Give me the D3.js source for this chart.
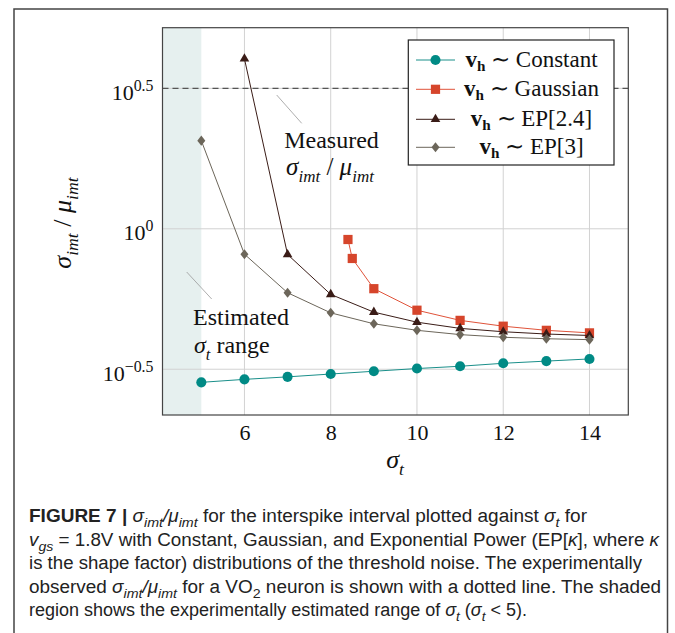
<!DOCTYPE html>
<html>
<head>
<meta charset="utf-8">
<script src="https://cdn.jsdelivr.net/npm/d3@7"></script>
<style>
  body { margin: 0; background: #fff; }
  svg { display: block; }
  .serif { font-family: 'Liberation Serif', 'Times New Roman', serif; fill: #111; }
  .sans { font-family: 'Liberation Sans', Arial, sans-serif; fill: #222; }
</style>
</head>
<body>
<svg id="chart" width="675" height="633"></svg>
<script>
// values
const xTicks = [6, 8, 10, 12, 14];
const yTickExps = [-0.5, 0, 0.5];

const constantX = [5, 6, 7, 8, 9, 10, 11, 12, 13, 14];
const constantY = [0.284, 0.291, 0.297, 0.304, 0.311, 0.318, 0.324, 0.332, 0.338, 0.344];

const gaussianX = [8.4, 8.5, 9, 10, 11, 12, 13, 14];
const gaussianY = [0.916, 0.784, 0.612, 0.513, 0.472, 0.45, 0.435, 0.426];

const ep24X = [6, 7, 8, 9, 10, 11, 12, 13, 14];
const ep24Y = [4.03, 0.81, 0.584, 0.505, 0.465, 0.442, 0.43, 0.422, 0.417];

const ep3X = [5, 6, 7, 8, 9, 10, 11, 12, 13, 14];
const ep3Y = [2.06, 0.812, 0.592, 0.502, 0.459, 0.435, 0.42, 0.411, 0.406, 0.403];

const measuredRatio = 3.162; // dashed line, 10^0.5
const estimatedMax = 5;      // shaded region sigma_t < 5
const legendLabels = ['Constant', 'Gaussian', 'EP[2.4]', 'EP[3]'];

const svg = d3.select('#chart');

// plot box
const pLeft = 162.5, pRight = 628.3, pTop = 27.7, pBottom = 415;

const x = d3.scaleLinear().domain([4.1, 14.9]).range([pLeft, pRight]);
const y = d3.scaleLog().domain([Math.pow(10, -0.663), Math.pow(10, 0.716)]).range([pBottom, pTop]);

// diamond a bit wider than d3's
const diamond = {
  draw(ctx, size) {
    const h = Math.sqrt(size) * 0.58, w = h * 0.8;
    ctx.moveTo(0, -h); ctx.lineTo(w, 0); ctx.lineTo(0, h); ctx.lineTo(-w, 0); ctx.closePath();
  }
};

const series = [
  { xs: constantX, ys: constantY, color: '#008a85', line: '#1a8f8a', sym: d3.symbolCircle, size: 80 },
  { xs: gaussianX, ys: gaussianY, color: '#d6452b', line: '#e0533a', sym: d3.symbolSquare, size: 85 },
  { xs: ep24X, ys: ep24Y, color: '#3a1c17', line: '#3a1c17', sym: d3.symbolTriangle, size: 40 },
  { xs: ep3X, ys: ep3Y, color: '#6c665a', line: '#6c665a', sym: diamond, size: 75 }
];

// helper for text with sub/superscripts
function rich(text, parts, base, small, drop) {
  const k = small || 0.68;
  const dropK = drop || 0.28;
  let shift = 0;
  parts.forEach(function(p) {
    const target = p.sub ? base * dropK : p.sup ? -base * 0.4 : 0;
    text.append('tspan')
      .attr('dy', target - shift)
      .style('font-size', (p.sub || p.sup ? base * k : base) + 'px')
      .style('font-style', p.i ? 'italic' : null)
      .style('font-weight', p.b ? 'bold' : null)
      .text(p.t);
    shift = target;
  });
  return text;
}

// outer figure frame
svg.append('rect')
  .attr('x', 14).attr('y', 9)
  .attr('width', 653.5).attr('height', 660)
  .attr('fill', 'none').attr('stroke', '#444').attr('stroke-width', 1.5);

// shaded estimated range
svg.append('rect')
  .attr('x', pLeft).attr('y', pTop)
  .attr('width', x(estimatedMax) - pLeft).attr('height', pBottom - pTop)
  .attr('fill', '#e6f0ef');

// grid
svg.append('g')
  .selectAll('line')
  .data(xTicks)
  .enter()
  .append('line')
  .attr('x1', d => x(d)).attr('x2', d => x(d))
  .attr('y1', pTop).attr('y2', pBottom)
  .attr('stroke', '#d2d2d2');

svg.append('g')
  .selectAll('line')
  .data(yTickExps)
  .enter()
  .append('line')
  .attr('x1', pLeft).attr('x2', pRight)
  .attr('y1', d => y(Math.pow(10, d))).attr('y2', d => y(Math.pow(10, d)))
  .attr('stroke', '#d2d2d2');

// measured ratio
svg.append('line')
  .attr('x1', pLeft).attr('x2', pRight)
  .attr('y1', y(measuredRatio)).attr('y2', y(measuredRatio))
  .attr('stroke', '#555').attr('stroke-width', 1.2)
  .attr('stroke-dasharray', '6,4');

// axes labels
const xAxis = d3.axisBottom(x).tickValues(xTicks).tickSize(0).tickPadding(0);
svg.append('g')
  .attr('transform', `translate(0,${pBottom})`)
  .call(xAxis)
  .call(g => g.select('.domain').remove())
  .selectAll('text')
  .attr('class', 'serif')
  .attr('dy', 0)
  .attr('y', 25)
  .style('font-size', '22px');

const yAxis = d3.axisLeft(y).tickValues(yTickExps.map(e => Math.pow(10, e))).tickSize(0).tickFormat('');
svg.append('g')
  .attr('transform', `translate(${pLeft},0)`)
  .call(yAxis)
  .call(g => g.select('.domain').remove())
  .selectAll('.tick')
  .each(function(d) {
    const e = Math.round(Math.log10(d) * 10) / 10;
    const t = d3.select(this).select('text')
      .attr('class', 'serif')
      .attr('x', -9).attr('dy', 0).attr('y', 11)
      .attr('text-anchor', 'end')
      .text(null);
    rich(t, [{ t: '10' }, { t: e === 0 ? '0' : String(e).replace('-', '\u2212'), sup: 1 }], 22, 0.72);
  });

// series
const line = d3.line();
series.forEach(function(s) {
  const pts = s.xs.map((v, i) => [x(v), y(s.ys[i])]);
  svg.append('path')
    .attr('d', line(pts))
    .attr('fill', 'none')
    .attr('stroke', s.line)
    .attr('stroke-width', 1);
  svg.append('g')
    .selectAll('path')
    .data(pts)
    .enter()
    .append('path')
    .attr('transform', d => `translate(${d[0]},${d[1]})`)
    .attr('d', d3.symbol().type(s.sym).size(s.size))
    .attr('fill', s.color);
});

// plot frame
svg.append('rect')
  .attr('x', pLeft).attr('y', pTop)
  .attr('width', pRight - pLeft).attr('height', pBottom - pTop)
  .attr('fill', 'none').attr('stroke', '#444').attr('stroke-width', 1.2);

// annotations
svg.append('line')
  .attr('x1', 276.7).attr('y1', 95).attr('x2', 301.7).attr('y2', 123.3)
  .attr('stroke', '#999').attr('stroke-width', 0.8);
svg.append('text').attr('class', 'serif')
  .attr('x', 331.5).attr('y', 148.3).attr('text-anchor', 'middle')
  .style('font-size', '24px').text('Measured');
rich(svg.append('text').attr('class', 'serif')
  .attr('x', 330).attr('y', 175).attr('text-anchor', 'middle'),
  [{ t: 'σ', i: 1 }, { t: 'imt', sub: 1, i: 1 }, { t: ' / ' }, { t: 'μ', i: 1 }, { t: 'imt', sub: 1, i: 1 }], 25);

svg.append('line')
  .attr('x1', 186.7).attr('y1', 272).attr('x2', 211.7).attr('y2', 299)
  .attr('stroke', '#999').attr('stroke-width', 0.8);
svg.append('text').attr('class', 'serif')
  .attr('x', 193).attr('y', 325)
  .style('font-size', '24px').text('Estimated');
rich(svg.append('text').attr('class', 'serif')
  .attr('x', 194).attr('y', 353),
  [{ t: 'σ', i: 1 }, { t: 't', sub: 1, i: 1 }, { t: ' range' }], 24);

// axis titles
rich(svg.append('text').attr('class', 'serif')
  .attr('x', 395).attr('y', 468).attr('text-anchor', 'middle'),
  [{ t: 'σ', i: 1 }, { t: 't', sub: 1, i: 1 }], 26);

rich(svg.append('text').attr('class', 'serif')
  .attr('transform', 'translate(71,223) rotate(-90)').attr('text-anchor', 'middle'),
  [{ t: 'σ', i: 1 }, { t: 'imt', sub: 1, i: 1 }, { t: ' / ' }, { t: 'μ', i: 1 }, { t: 'imt', sub: 1, i: 1 }], 26);

// legend
const legend = svg.append('g');
legend.append('rect')
  .attr('x', 408.3).attr('y', 40).attr('width', 205.7).attr('height', 125)
  .attr('fill', '#fff').attr('stroke', '#222').attr('stroke-width', 1.2);
const rowY = [60, 89.3, 119.3, 147.3];
series.forEach(function(s, i) {
  const g = legend.append('g').attr('transform', `translate(0,${rowY[i]})`);
  g.append('line').attr('x1', 416).attr('x2', 455).attr('stroke', s.line).attr('stroke-width', 1);
  g.append('path')
    .attr('transform', 'translate(435.5,0)')
    .attr('d', d3.symbol().type(s.sym).size(s.size))
    .attr('fill', s.color);
  rich(g.append('text').attr('class', 'serif')
    .attr('x', 531.5).attr('y', 6.5).attr('text-anchor', 'middle'),
    [{ t: 'v', b: 1 }, { t: 'h', sub: 1, b: 1 }, { t: ' \u223C ' + legendLabels[i] }], 23, 0.66, 0.2);
});

// caption
const capLines = [
  { w: 558, parts: [{ t: 'FIGURE 7 | ', b: 1 }, { t: 'σ', i: 1 }, { t: 'imt', sub: 1, i: 1 }, { t: '/', i: 1 }, { t: 'μ', i: 1 }, { t: 'imt', sub: 1, i: 1 },
    { t: ' for the interspike interval plotted against ' }, { t: 'σ', i: 1 }, { t: 't', sub: 1, i: 1 }, { t: ' for' }] },
  { w: 630, parts: [{ t: 'v', i: 1 }, { t: 'gs', sub: 1, i: 1 }, { t: ' = 1.8V with Constant, Gaussian, and Exponential Power (EP[' }, { t: 'κ', i: 1 }, { t: '], where ' }, { t: 'κ', i: 1 }] },
  { w: 613, parts: [{ t: 'is the shape factor) distributions of the threshold noise. The experimentally' }] },
  { w: 632, parts: [{ t: 'observed ' }, { t: 'σ', i: 1 }, { t: 'imt', sub: 1, i: 1 }, { t: '/', i: 1 }, { t: 'μ', i: 1 }, { t: 'imt', sub: 1, i: 1 },
    { t: ' for a VO' }, { t: '2', sub: 1 }, { t: ' neuron is shown with a dotted line. The shaded' }] },
  { w: 498, parts: [{ t: 'region shows the experimentally estimated range of ' }, { t: 'σ', i: 1 }, { t: 't', sub: 1, i: 1 }, { t: ' (' }, { t: 'σ', i: 1 }, { t: 't', sub: 1, i: 1 }, { t: ' < 5).' }] }
];
capLines.forEach(function(l, i) {
  rich(svg.append('text').attr('class', 'sans')
    .attr('x', 29).attr('y', 522 + i * 23.6)
    .attr('textLength', l.w).attr('lengthAdjust', 'spacingAndGlyphs'),
    l.parts, 18, 0.75);
});
</script>
</body>
</html>
